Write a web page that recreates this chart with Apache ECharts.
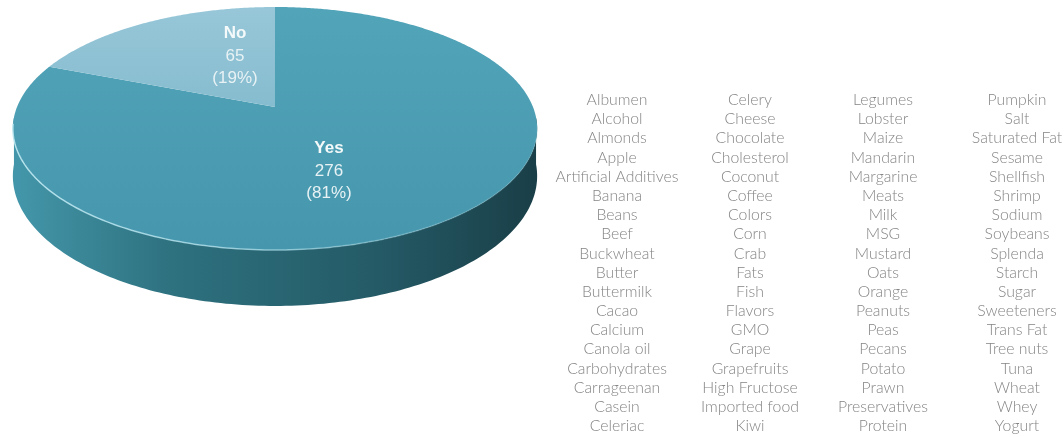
<!DOCTYPE html>
<html>
<head>
<meta charset="utf-8">
<script src="https://cdn.jsdelivr.net/npm/echarts@6/dist/echarts.min.js"></script>
<style>
html,body{margin:0;padding:0;background:#fff;}
#chart{width:1064px;height:437px;}
</style>
</head>
<body>
<div id="chart"></div>
<script>
// ---- data ----
const answers = ['Yes', 'No'];
const counts = [276, 65];
const col1 = ['Albumen','Alcohol','Almonds','Apple','Artificial Additives','Banana','Beans','Beef','Buckwheat','Butter','Buttermilk','Cacao','Calcium','Canola oil','Carbohydrates','Carrageenan','Casein','Celeriac'];
const col2 = ['Celery','Cheese','Chocolate','Cholesterol','Coconut','Coffee','Colors','Corn','Crab','Fats','Fish','Flavors','GMO','Grape','Grapefruits','High Fructose','Imported food','Kiwi'];
const col3 = ['Legumes','Lobster','Maize','Mandarin','Margarine','Meats','Milk','MSG','Mustard','Oats','Orange','Peanuts','Peas','Pecans','Potato','Prawn','Preservatives','Protein'];
const col4 = ['Pumpkin','Salt','Saturated Fat','Sesame','Shellfish','Shrimp','Sodium','Soybeans','Splenda','Starch','Sugar','Sweeteners','Trans Fat','Tree nuts','Tuna','Wheat','Whey','Yogurt'];

// ---- layout (perspective pie) ----
const CX = 275, CY = 107, KX = 258, AY = 117.7, PC = -0.177, DEPTH = 46;
const labelPos = [[329, 171], [235, 56]];
const topColors = [
  ['#52a4b9', '#4697ad'],
  ['#97c7d8', '#86bccf']
];

function proj(phiDeg, r, drop) {
  const p = phiDeg * Math.PI / 180;
  const u = r * Math.sin(p), v = -r * Math.cos(p);
  const w = 1 / (1 + PC * v);
  return [CX + KX * u * w, CY + AY * v * w + (drop || 0) * w];
}

const total = counts.reduce((a, b) => a + b, 0);

function renderItem(params, api) {
  const i = params.dataIndex;
  let start = 0;
  for (let j = 0; j < i; j++) start += counts[j] / total * 360;
  const end = start + api.value(0) / total * 360;
  const children = [];
  // side (front-facing part only)
  const a = Math.max(start, 95), b = Math.min(end, 265);
  if (b > a) {
    const side = [];
    for (let t = a; t <= b; t += 1) side.push(proj(t, 1, 0));
    for (let t = b; t >= a; t -= 1) side.push(proj(t, 1, DEPTH));
    children.push({
      type: 'polygon', z2: 1,
      shape: { points: side },
      style: {
        fill: { type: 'linear', x: CX - KX, y: 0, x2: CX + KX, y2: 0, global: true,
          colorStops: [{offset: 0, color: '#4396a9'}, {offset: 0.3, color: '#2e717f'}, {offset: 0.7, color: '#245a66'}, {offset: 1, color: '#1a3f48'}] }
      }
    });
    const rim = [];
    for (let t = a + 3; t <= b - 3; t += 1) rim.push(proj(t, 1, 0));
    children.push({
      type: 'polyline', z2: 3,
      shape: { points: rim },
      style: {
        fill: null, lineWidth: 1.5,
        stroke: { type: 'linear', x: CX - KX, y: 0, x2: CX + KX, y2: 0, global: true,
          colorStops: [{offset: 0, color: 'rgba(190,232,242,0.9)'}, {offset: 0.5, color: 'rgba(170,220,232,0.7)'}, {offset: 1, color: 'rgba(120,180,195,0.2)'}] }
      }
    });
  }
  // top face
  const pts = [proj(0, 0, 0)];
  for (let t = start; t < end; t += 0.5) pts.push(proj(t, 1, 0));
  pts.push(proj(end, 1, 0));
  children.push({
    type: 'polygon', z2: 2,
    shape: { points: pts },
    style: {
      fill: { type: 'linear', x: 0, y: 0, x2: 0, y2: 1,
        colorStops: [{offset: 0, color: topColors[i][0]}, {offset: 1, color: topColors[i][1]}] }
    }
  });
  // label
  const pct = Math.round(api.value(0) / total * 100);
  children.push({
    type: 'text', z2: 10,
    style: {
      x: labelPos[i][0], y: labelPos[i][1],
      text: '{b|' + answers[i] + '}\n{n|' + api.value(0) + '}\n{n|(' + pct + '%)}',
      align: 'center', verticalAlign: 'middle',
      textAlign: 'center', textVerticalAlign: 'middle',
      fill: '#eef6f8',
      fontFamily: 'Liberation Sans, Arial, sans-serif',
      fontSize: 17,
      rich: {
        b: { fontWeight: 'bold', fontSize: 17, lineHeight: 22.5, fill: '#f4f9fa', fontFamily: 'Liberation Sans, Arial, sans-serif' },
        n: { fontSize: 17, lineHeight: 22.5, fill: '#e8f2f5', fontFamily: 'Liberation Sans, Arial, sans-serif' }
      }
    }
  });
  return { type: 'group', children: children };
}

// ---- word list ----
const colX = [617, 750, 883, 1017];
const cols = [col1, col2, col3, col4];
const ROW0 = 100, ROWH = 19.18;
const graphics = cols.map((c, k) => ({
  type: 'text',
  x: colX[k], y: ROW0 - ROWH / 2,
  style: {
    text: c.join('\n'),
    align: 'center', verticalAlign: 'top',
    textAlign: 'center', textVerticalAlign: 'top',
    fill: '#858585',
    font: '300 15.8px Lato, sans-serif',
    lineHeight: ROWH
  }
}));

const chart = echarts.init(document.getElementById('chart'), null, { renderer: 'canvas' });
chart.setOption({
  backgroundColor: '#ffffff',
  animation: false,
  series: [{
    type: 'custom',
    coordinateSystem: 'none',
    renderItem: renderItem,
    data: counts.map((v, i) => ({ name: answers[i], value: v }))
  }],
  graphic: graphics
});
</script>
</body>
</html>
